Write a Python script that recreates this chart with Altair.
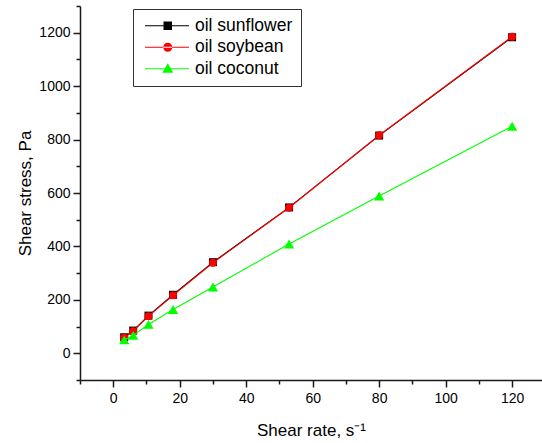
import altair as alt
import pandas as pd

# ---- data ----
shear_rate = [3.3, 6.0, 10.6, 18.0, 30.0, 52.9, 80.0, 120.0]
sunflower = [60, 85, 141, 219, 341, 546, 815, 1183]
soybean = [58, 83, 139, 217, 339, 545, 816, 1185]
coconut = [50, 67, 108, 164, 248, 409, 589, 850]

series_names = ["oil sunflower", "oil soybean", "oil coconut"]
series_colors = ["#000000", "#ff0000", "#00ff00"]
series_shapes = ["square", "circle", "triangle-up"]
series_sizes = [64, 62, 105]
# legend symbols: a line with the marker in the middle
legend_paths = [
    "M-4.75,-0.6H39.25V0.6H-4.75Z M13.75,-4.25H22.25V4.25H13.75Z",
    "M-4.75,-0.6H39.25V0.6H-4.75Z M13.5,0A4.5,4.5 0 1,0 22.5,0A4.5,4.5 0 1,0 13.5,0Z",
    "M-4.75,-0.6H39.25V0.6H-4.75Z M18,-5.5L23.5,4H12.5Z",
]

x_tick_values = list(range(-10, 130, 10))
y_tick_values = list(range(-100, 1301, 100))

values = [sunflower, soybean, coconut]
rows = []
for name, vals in zip(series_names, values):
    for xr, v in zip(shear_rate, vals):
        rows.append({"series": name, "rate": xr, "stress": v})
df = pd.DataFrame(rows)

FONT = "Liberation Sans"

x_enc = alt.X(
    "rate:Q",
    scale=alt.Scale(domain=[-10, 129], nice=False, zero=False),
    axis=alt.Axis(
        title="Shear rate, s\u207b\u00b9",
        values=x_tick_values,
        format="d",
        labelExpr="datum.value % 20 == 0 ? datum.label : ''",
        tickSize=alt.condition("datum.value % 20 == 0", alt.value(7), alt.value(4)),
        labelPadding=4,
        titlePadding=17,
    ),
)
y_enc = alt.Y(
    "stress:Q",
    scale=alt.Scale(domain=[-100, 1300], nice=False, zero=False),
    axis=alt.Axis(
        title="Shear stress, Pa",
        values=y_tick_values,
        format="d",
        labelExpr="datum.value % 200 == 0 ? datum.label : ''",
        tickSize=alt.condition("datum.value % 200 == 0", alt.value(7), alt.value(4)),
        labelPadding=3,
        titlePadding=4,
    ),
)

base = alt.Chart(df)
layers = []
for name, col, shp, sz in zip(series_names, series_colors, series_shapes, series_sizes):
    sub = base.transform_filter(alt.datum.series == name)
    layers.append(sub.mark_line(color=col, strokeWidth=1.1).encode(x=x_enc, y=y_enc))
    layers.append(
        sub.mark_point(shape=shp, filled=True, size=sz, color=col, opacity=1).encode(
            x=x_enc, y=y_enc
        )
    )

legend_props = dict(
    title=None,
    orient="none",
    legendX=53,
    legendY=3,
    padding=8,
    rowPadding=2.5,
    labelOffset=36.5,
    labelFont=FONT,
    labelFontSize=17.5,
    labelColor="#000000",
    strokeColor="#333333",
    symbolSize=4,
    symbolStrokeWidth=0,
    symbolOpacity=1,
)

legend_layer = (
    base.transform_filter("false")
    .mark_point(filled=True, opacity=1)
    .encode(
        x=x_enc,
        y=y_enc,
        color=alt.Color(
            "series:N",
            scale=alt.Scale(domain=series_names, range=series_colors),
            legend=alt.Legend(**legend_props),
        ),
        shape=alt.Shape(
            "series:N",
            scale=alt.Scale(domain=series_names, range=legend_paths),
            legend=alt.Legend(**legend_props),
        ),
    )
)

chart = (
    alt.layer(*layers, legend_layer)
    .properties(
        width=462,
        height=374,
        autosize=alt.AutoSizeParams(type="none"),
        padding={"left": 80, "top": 6, "right": 0, "bottom": 63},
    )
    .configure_view(stroke=None)
    .configure_axis(
        grid=False,
        domainColor="#1a1a1a",
        domainWidth=1.5,
        tickColor="#1a1a1a",
        tickWidth=1.5,
        labelFont=FONT,
        labelFontSize=14,
        labelColor="#000000",
        titleFont=FONT,
        titleFontSize=17,
        titleFontWeight="normal",
        titleColor="#000000",
    )
)

chart.save("out.html", embed_options={"renderer": "svg", "actions": False})
